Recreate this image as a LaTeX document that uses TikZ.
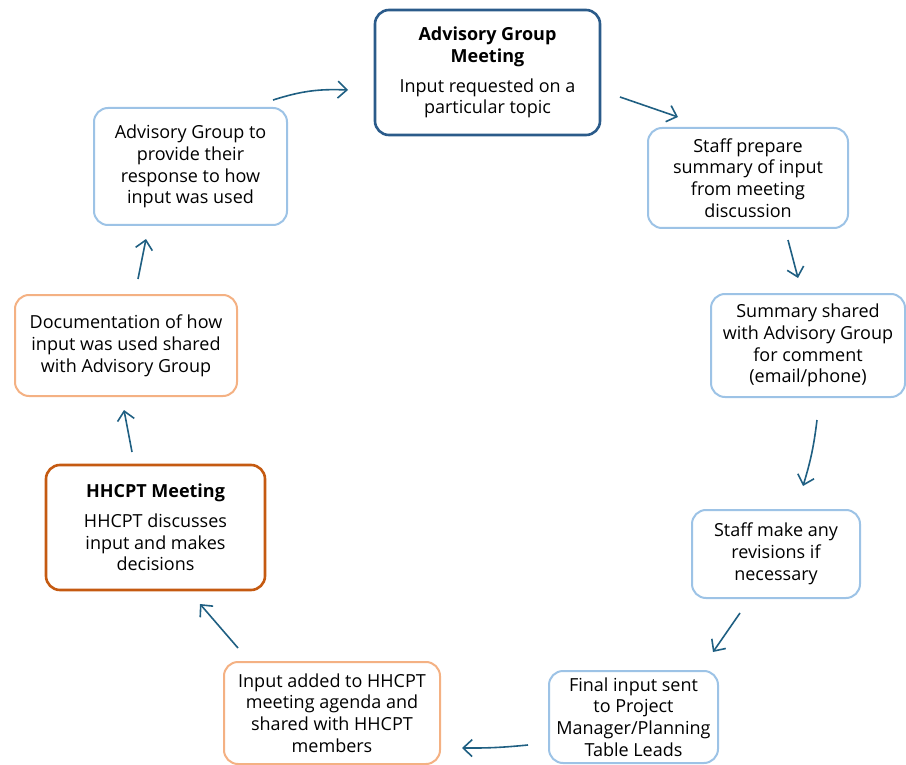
\documentclass[tikz,border=0pt]{standalone}
\usepackage{fontspec}
\setmainfont{Open Sans}
\usetikzlibrary{arrows.meta}
\definecolor{darkblue}{RGB}{43, 91, 138}
\definecolor{lightblue}{RGB}{157, 195, 230}
\definecolor{darkorange}{RGB}{197, 90, 17}
\definecolor{lightorange}{RGB}{244, 177, 131}
\definecolor{arrowteal}{RGB}{31, 95, 130}
\tikzset{
  stepbox/.style={rectangle, draw=#1, fill=white, rounded corners=14pt, line width=2pt, align=center, inner sep=0pt, font=\fontsize{18}{21.8}\selectfont},
  keybox/.style={stepbox=#1, line width=2.6pt},
  flow/.style={draw=arrowteal, line width=1.6pt, -{Straight Barb[length=9pt, width=17pt, line width=1.6pt]}},
}
\begin{document}
\begin{tikzpicture}[x=1pt, y=-1pt]
\useasboundingbox (0,0) rectangle (906,765);
% boxes of the cycle
\node[keybox=darkblue, minimum width=225pt, minimum height=125pt] (agm) at (487.5,72.5) {\bfseries Advisory Group\\\bfseries Meeting\\[8pt]Input requested on a\\particular topic};
\node[stepbox=lightblue, minimum width=200pt, minimum height=100pt] (prep) at (748,178) {Staff prepare\\summary of input\\from meeting\\discussion};
\node[stepbox=lightblue, minimum width=194pt, minimum height=103pt] (share) at (808,345.5) {Summary shared\\with Advisory Group\\for comment\\(email/phone)};
\node[stepbox=lightblue, minimum width=168pt, minimum height=88pt] (revise) at (776,554) {Staff make any\\revisions if\\necessary};
\node[stepbox=lightblue, minimum width=169pt, minimum height=92pt] (final) at (633.5,717) {Final input sent\\to Project\\Manager/Planning\\Table Leads};
\node[stepbox=lightorange, minimum width=216pt, minimum height=102pt] (agenda) at (332,713) {Input added to HHCPT\\meeting agenda and\\shared with HHCPT\\members};
\node[keybox=darkorange, minimum width=219pt, minimum height=125pt] (hhcpt) at (155.5,527.5) {\bfseries HHCPT Meeting\\[8pt]HHCPT discusses\\input and makes\\decisions};
\node[stepbox=lightorange, minimum width=222pt, minimum height=101pt] (docu) at (126,345.5) {Documentation of how\\input was used shared\\with Advisory Group};
\node[stepbox=lightblue, minimum width=193pt, minimum height=117pt] (resp) at (190.5,166.5) {Advisory Group to\\provide their\\response to how\\input was used};
% arrow ends
\coordinate (resp-out) at (273,100);   \coordinate (agm-in) at (348,90);
\coordinate (agm-out) at (620,97);     \coordinate (prep-in) at (678,117);
\coordinate (prep-out) at (788,240);   \coordinate (share-in) at (798,278);
\coordinate (share-out) at (817,420);  \coordinate (revise-in) at (803,486);
\coordinate (revise-out) at (740,613); \coordinate (final-in) at (713,652);
\coordinate (final-out) at (528,745);  \coordinate (agenda-in) at (462,748);
\coordinate (agenda-out) at (238,648); \coordinate (hhcpt-in) at (200,604);
\coordinate (hhcpt-out) at (132,452);  \coordinate (docu-in) at (124,410);
\coordinate (docu-out) at (138,279);   \coordinate (resp-in) at (146,239);
% arrows
\draw[flow] (resp-out) to[bend left=10] (agm-in);
\draw[flow] (agm-out) -- (prep-in);
\draw[flow] (prep-out) -- (share-in);
\draw[flow] (share-out) to[bend left=5] (revise-in);
\draw[flow] (revise-out) -- (final-in);
\draw[flow] (final-out) to[bend left=3] (agenda-in);
\draw[flow] (agenda-out) -- (hhcpt-in);
\draw[flow] (hhcpt-out) -- (docu-in);
\draw[flow] (docu-out) -- (resp-in);
\end{tikzpicture}
\end{document}
